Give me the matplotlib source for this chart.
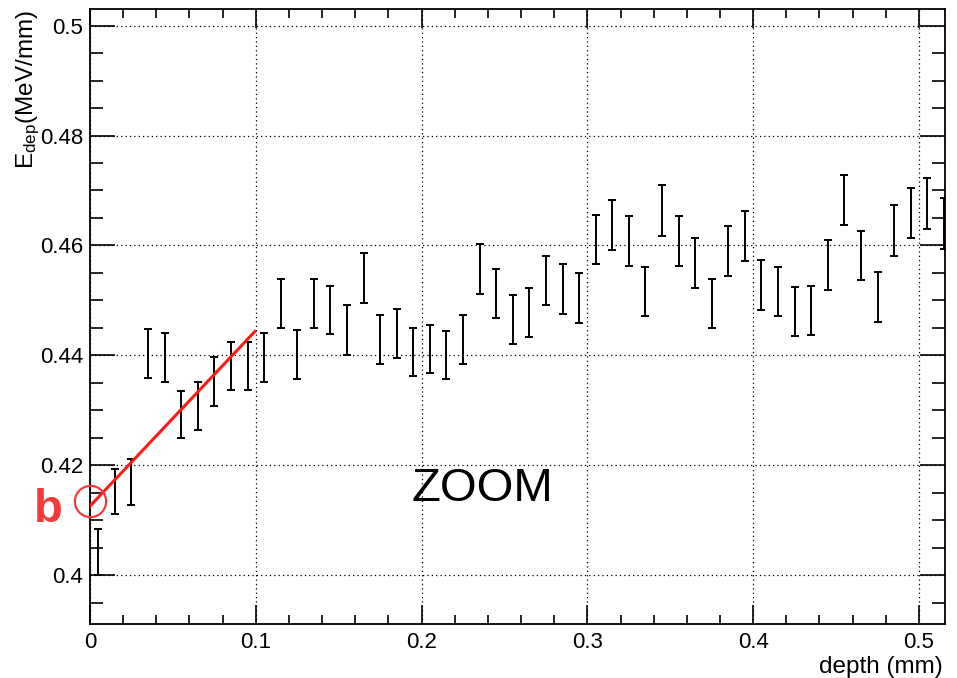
import matplotlib
matplotlib.use('Agg')
import matplotlib.pyplot as plt
from matplotlib.ticker import MultipleLocator, FuncFormatter

plt.rcParams['font.family'] = ['Liberation Sans', 'DejaVu Sans']
plt.rcParams['mathtext.fontset'] = 'custom'
plt.rcParams['mathtext.rm'] = 'Liberation Sans'
plt.rcParams['mathtext.it'] = 'Liberation Sans'

# bin centres (mm)
depth = [0.005, 0.015, 0.025, 0.035, 0.045, 0.055, 0.065, 0.075, 0.085, 0.095,
         0.105, 0.115, 0.125, 0.135, 0.145, 0.155, 0.165, 0.175, 0.185, 0.195,
         0.205, 0.215, 0.225, 0.235, 0.245, 0.255, 0.265, 0.275, 0.285, 0.295,
         0.305, 0.315, 0.325, 0.335, 0.345, 0.355, 0.365, 0.375, 0.385, 0.395,
         0.405, 0.415, 0.425, 0.435, 0.445, 0.455, 0.465, 0.475, 0.485, 0.495,
         0.505, 0.515]

# deposited energy per depth (MeV/mm)
edep = [0.4042, 0.4152, 0.4169, 0.4403, 0.4396, 0.4292, 0.4308, 0.4352, 0.4380, 0.4380,
        0.4396, 0.4494, 0.4401, 0.4494, 0.4483, 0.4446, 0.4541, 0.4429, 0.4440, 0.4406,
        0.4412, 0.4400, 0.4429, 0.4557, 0.4512, 0.4465, 0.4478, 0.4536, 0.4521, 0.4504,
        0.4611, 0.4637, 0.4608, 0.4516, 0.4664, 0.4608, 0.4568, 0.4494, 0.4590, 0.4617,
        0.4528, 0.4516, 0.4480, 0.4482, 0.4564, 0.4683, 0.4582, 0.4506, 0.4627, 0.4659,
        0.4676, 0.4640]

edep_err = [0.0042, 0.0041, 0.0042, 0.0044, 0.0044, 0.0043, 0.0044, 0.0044, 0.0044, 0.0044,
            0.0044, 0.0045, 0.0045, 0.0045, 0.0044, 0.0045, 0.0045, 0.0045, 0.0045, 0.0044,
            0.0044, 0.0044, 0.0045, 0.0045, 0.0045, 0.0045, 0.0045, 0.0045, 0.0045, 0.0045,
            0.0045, 0.0046, 0.0046, 0.0045, 0.0046, 0.0046, 0.0045, 0.0045, 0.0046, 0.0046,
            0.0045, 0.0045, 0.0045, 0.0045, 0.0046, 0.0046, 0.0045, 0.0045, 0.0046, 0.0046,
            0.0046, 0.0046]

# linear fit over the first 0.1 mm
fit_x = [0.0, 0.0995]
fit_y = [0.41255, 0.44436]

# intercept marker
b_x = [0.0]
b_y = [0.4135]

fig = plt.figure(figsize=(9.57, 6.78), dpi=100)
ax = fig.add_axes([90 / 957, 1 - 624 / 678, 855 / 957, (624 - 9.3) / 678])

ax.errorbar(depth, edep, yerr=edep_err, fmt='none', ecolor='black',
            elinewidth=1.4, capsize=3, capthick=1.4, zorder=3)
ax.plot(fit_x, fit_y, color='#ff1a1a', lw=2.2, zorder=4)
ax.plot(b_x, b_y, 'o', mfc='none', mec='#f23a3a', mew=1.6, ms=22.5,
        clip_on=False, zorder=5)

ax.text(-0.02515, 0.40958, 'b', color='#f23a3a', fontsize=34, fontweight='bold',
        ha='center', va='baseline', clip_on=False)
ax.text(0.2367, 0.41345, 'ZOOM', color='black', fontsize=34,
        ha='center', va='baseline')

ax.set_xlim(0, 0.5157)
ax.set_ylim(0.39109, 0.50298)

ax.xaxis.set_major_locator(MultipleLocator(0.1))
ax.xaxis.set_minor_locator(MultipleLocator(0.02))
ax.yaxis.set_major_locator(MultipleLocator(0.02))
ax.yaxis.set_minor_locator(MultipleLocator(0.005))
fmt = FuncFormatter(lambda v, p: '%g' % round(v, 4))
ax.xaxis.set_major_formatter(fmt)
ax.yaxis.set_major_formatter(fmt)

ax.tick_params(which='both', direction='in', top=True, right=True,
               labelsize=16, width=1.2, color='black')
ax.tick_params(axis='x', which='major', length=13.7, pad=6)
ax.tick_params(axis='x', which='minor', length=6.8)
ax.tick_params(axis='y', which='major', length=18, pad=5)
ax.tick_params(axis='y', which='minor', length=9.4)

ax.grid(which='major', linestyle=(0, (1, 2.5)), color='black', lw=0.9)
for s in ax.spines.values():
    s.set_linewidth(1.3)

fig.text(943 / 957, 1 - 667 / 678, 'depth (mm)', fontsize=17.5,
         ha='right', va='center')
fig.text(28 / 957, 1 - 10 / 678, r'E$_{\mathrm{dep}}$(MeV/mm)', fontsize=17.5,
         rotation=90, ha='center', va='top')

fig.savefig('out.png', dpi=100)
